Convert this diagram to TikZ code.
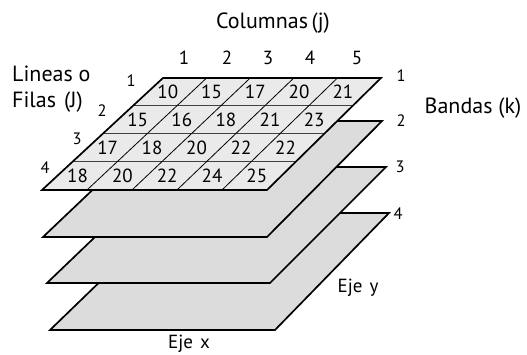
\documentclass[tikz,border=0pt]{standalone}
\usepackage{fontspec}
\setmainfont{PT Sans}
\usetikzlibrary{calc}
\definecolor{topfill}{HTML}{EAEAEA}
\definecolor{layerfill}{HTML}{DCDCDC}
\begin{document}
\begin{tikzpicture}[x=1pt,y=-1pt,
  layer/.style={fill=layerfill,draw=black,line width=1.7pt,line join=miter},
  rowline/.style={draw=black!75,line width=1pt},
  colline/.style={draw=black,line width=0.8pt},
  num/.style={font=\fontsize{19}{19}\selectfont,inner sep=0pt},
  lbl/.style={font=\fontsize{22}{24}\selectfont,inner sep=0pt,anchor=base},
  idx/.style={font=\fontsize{16.5}{18}\selectfont,inner sep=0pt},
  hdr/.style={font=\fontsize{19}{20}\selectfont,inner sep=0pt,anchor=base},
  axis/.style={font=\fontsize{19}{20}\selectfont,inner sep=0pt,anchor=base}]
\useasboundingbox[fill=white] (0,0) rectangle (527,355);
% layer corners: tl, tr, br, bl
\coordinate (d1) at (171,213); \coordinate (d2) at (389,213);
\coordinate (d3) at (275,330); \coordinate (d4) at (50,330);
\coordinate (c1) at (168,167); \coordinate (c2) at (386,167);
\coordinate (c3) at (270,283); \coordinate (c4) at (47,283);
\coordinate (b1) at (165,121); \coordinate (b2) at (382,121);
\coordinate (b3) at (267,237); \coordinate (b4) at (43,237);
\coordinate (a1) at (163,78);  \coordinate (a2) at (381,78);
\coordinate (a3) at (267,190); \coordinate (a4) at (42,190);
% layers, back to front
\draw[layer] (d1) -- (d2) -- (d3) -- (d4) -- cycle;
\draw[layer] (c1) -- (c2) -- (c3) -- (c4) -- cycle;
\draw[layer] (b1) -- (b2) -- (b3) -- (b4) -- cycle;
\fill[topfill] (a1) -- (a2) -- (a3) -- (a4) -- cycle;
% grid of the top layer
\foreach \f in {0.25,0.5,0.75}
  \draw[rowline] ($(a1)!\f!(a4)$) -- ($(a2)!\f!(a3)$);
\foreach \f in {0.2,0.4,0.6,0.8}
  \draw[colline] ($(a1)!\f!(a2)$) -- ($(a4)!\f!(a3)$);
\draw[layer,fill=none] (a1) -- (a2) -- (a3) -- (a4) -- cycle;
% cell values
\foreach \row/\vals in {1/{10,15,17,20,21},2/{15,16,18,21,23},3/{17,18,20,22,22},4/{18,20,22,24,25}} {
  \foreach \v [count=\c] in \vals {
    \pgfmathsetmacro\uu{(\c-0.5)/5}
    \pgfmathsetmacro\ww{(\row-0.5)/4}
    \node[num,xshift=-2pt] (n\row-\c) at ($($(a1)!\ww!(a4)$)!\uu!($(a2)!\ww!(a3)$)$) {\v};
  }
}
% titles
\node[lbl] (coltitle) at (273,29) {Columnas\,(j)};
\foreach \x [count=\i] in {184,227,268,310,357}
  \node[hdr] (h\i) at (\x,65) {\i};
\node[lbl,anchor=base west] (lineas) at (12,82) {Lineas o};
\node[lbl,anchor=base west] (filas) at (12,108) {Filas\hspace{8pt}(J)};
\node[idx] (r1) at (131,81) {1};
\node[idx] (r2) at (102,111) {2};
\node[idx] (r3) at (77,139) {3};
\node[idx] (r4) at (45,168) {4};
\node[idx] (k1) at (401,76) {1};
\node[idx] (k2) at (401,121) {2};
\node[idx] (k3) at (400,167) {3};
\node[idx] (k4) at (398,214) {4};
\node[lbl] (bandas) at (473,114) {Bandas (k)};
\node[axis] (ejey) at (358,292) {Eje\hspace{7pt}y};
\node[axis] (ejex) at (189,348) {Eje\hspace{7pt}x};
\end{tikzpicture}
\end{document}
